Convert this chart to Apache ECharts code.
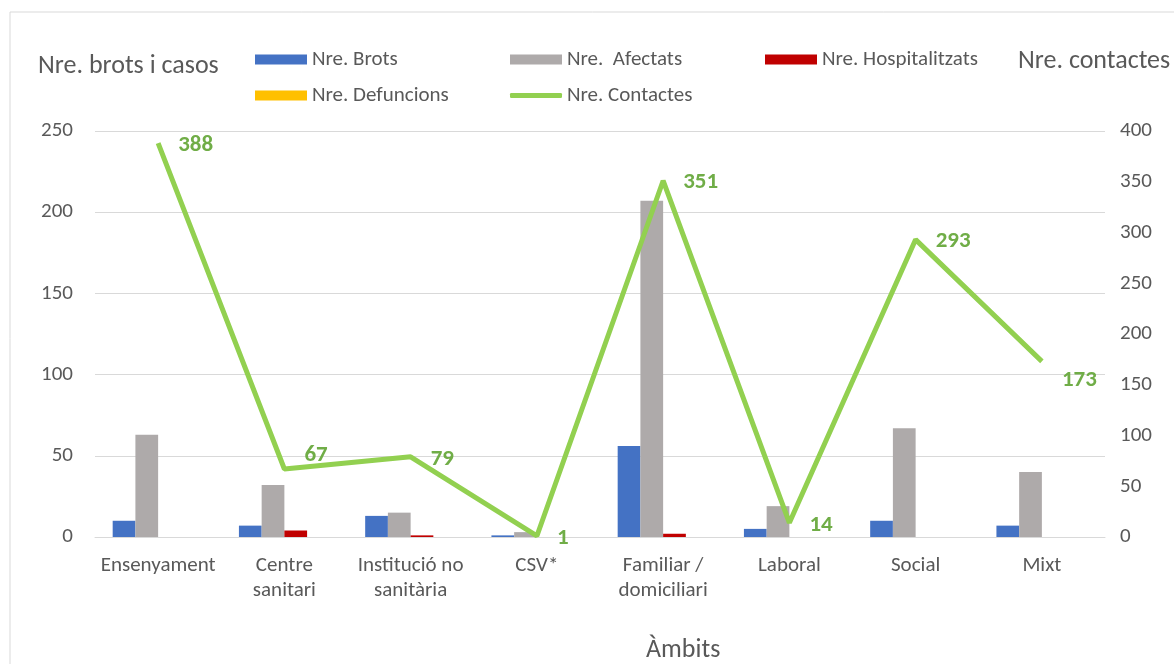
<!DOCTYPE html>
<html>
<head>
<meta charset="utf-8">
<script src="https://cdn.jsdelivr.net/npm/echarts@6/dist/echarts.min.js"></script>
<style>
  html, body { margin: 0; padding: 0; background: #fff; }
  #chart { width: 1174px; height: 664px; }
</style>
</head>
<body>
<div id="chart"></div>
<script>
// categories (ambits)
var ambits = ['Ensenyament', 'Centre\nsanitari', 'Institució no\nsanitària', 'CSV*', 'Familiar /\ndomiciliari', 'Laboral', 'Social', 'Mixt'];
// series values
var brots = [10, 7, 13, 1, 56, 5, 10, 7];
var afectats = [63, 32, 15, 3, 207, 19, 67, 40];
var hospitalitzats = [0, 4, 1, 0, 2, 0, 0, 0];
var defuncions = [0, 0, 0, 0, 0, 0, 0, 0];
var contactes = [388, 67, 79, 1, 351, 14, 293, 173];

var font = 'Carlito, Lato, sans-serif';
var grisText = '#595959';

var chart = echarts.init(document.getElementById('chart'));

// etiquetes de la linia: la majoria a la dreta, algunes desplaçades
var contactesData = [];
for (var i = 0; i < contactes.length; i++) {
    var off = [0, 2];
    if (i == 1) off = [0, -14];
    if (i == 7) off = [0, 19];
    contactesData.push({ value: contactes[i], label: { offset: off } });
}

function legendItem(name, left, top, icon, h) {
    return {
        left: left, top: top,
        data: [{ name: name, icon: icon || 'rect' }],
        itemWidth: 52, itemHeight: h || 10, itemGap: 0,
        selectedMode: false,
        textStyle: { fontFamily: font, fontSize: 21, color: grisText }
    };
}

var titol = { fontFamily: font, fontSize: 26, fontWeight: 'normal', color: grisText };

var option = {
    animation: false,
    textStyle: { fontFamily: font },
    graphic: [{
        type: 'rect',
        shape: { x: 10, y: 12, width: 1200, height: 700 },
        style: { fill: 'none', stroke: '#d9d9d9', lineWidth: 1 }
    }],
    title: [
        { text: 'Nre. brots i casos', left: 33, top: 48, textStyle: titol },
        { text: 'Nre. contactes', left: 1013, top: 43, textStyle: titol },
        { text: 'Àmbits', left: 641, top: 632, textStyle: titol }
    ],
    legend: [
        legendItem('Nre. Brots', 250, 44),
        legendItem('Nre.  Afectats', 505, 44),
        legendItem('Nre. Hospitalitzats', 760, 44),
        legendItem('Nre. Defuncions', 250, 80),
        legendItem('Nre. Contactes', 505, 80, 'roundRect', 5)
    ],
    grid: { left: 95, right: 69, top: 131, bottom: 127, containLabel: false },
    xAxis: {
        type: 'category',
        data: ambits,
        axisLine: { show: true, lineStyle: { color: '#d9d9d9', width: 1 } },
        axisTick: { show: false },
        axisLabel: { fontFamily: font, fontSize: 21, color: grisText, margin: 16, lineHeight: 25, interval: 0 }
    },
    yAxis: [{
        type: 'value', min: 0, max: 250, interval: 50,
        axisLine: { show: false }, axisTick: { show: false },
        splitLine: { lineStyle: { color: '#d9d9d9', width: 1 } },
        axisLabel: { fontFamily: font, fontSize: 21, color: grisText, margin: 22 }
    }, {
        type: 'value', min: 0, max: 400, interval: 50,
        axisLine: { show: false }, axisTick: { show: false },
        splitLine: { show: false },
        axisLabel: { fontFamily: font, fontSize: 21, color: grisText, margin: 15 }
    }],
    series: [
        { name: 'Nre. Brots', type: 'bar', data: brots, barGap: '0%', barCategoryGap: '28%', itemStyle: { color: '#4472C4' } },
        { name: 'Nre.  Afectats', type: 'bar', data: afectats, itemStyle: { color: '#AEAAAA' } },
        { name: 'Nre. Hospitalitzats', type: 'bar', data: hospitalitzats, itemStyle: { color: '#C00000' } },
        { name: 'Nre. Defuncions', type: 'bar', data: defuncions, itemStyle: { color: '#FFC000' } },
        {
            name: 'Nre. Contactes', type: 'line', yAxisIndex: 1, data: contactesData,
            symbol: 'circle', symbolSize: 0, z: 5,
            lineStyle: { color: '#92D050', width: 5 },
            itemStyle: { color: '#92D050' },
            label: { show: true, position: 'right', distance: 20, color: '#70AD47', fontWeight: 'bold', fontSize: 23, fontFamily: font }
        }
    ]
};

chart.setOption(option);
</script>
</body>
</html>
